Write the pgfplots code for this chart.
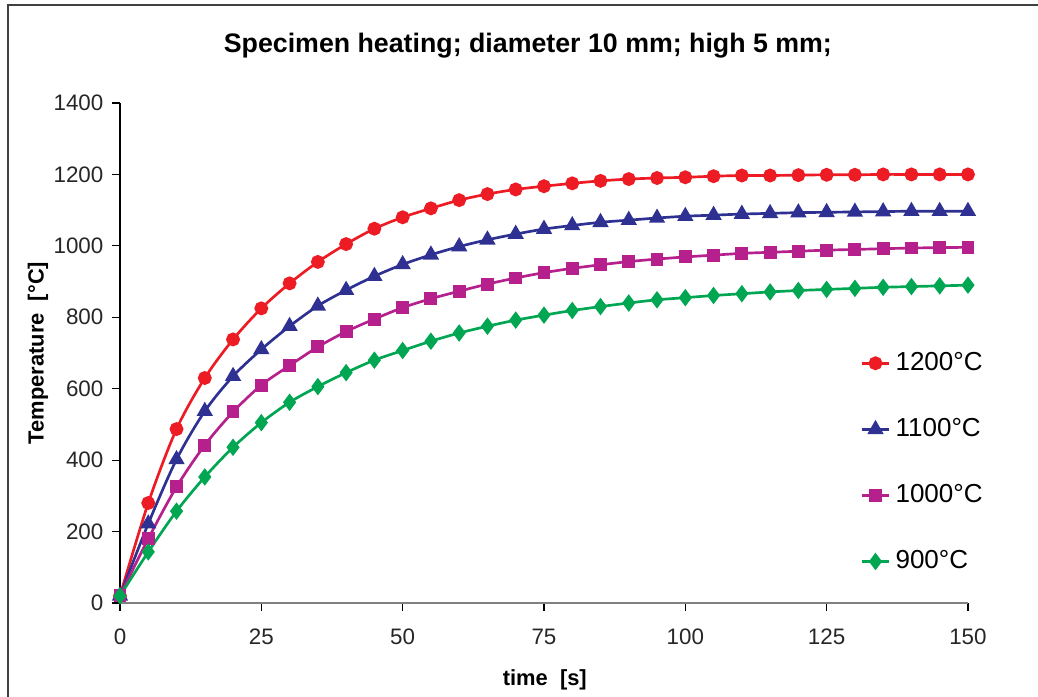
\documentclass[border=0pt]{standalone}
\usepackage{pgfplots}
\pgfplotsset{compat=1.18}
\usepackage{fontspec}
\setmainfont{Liberation Sans}
\definecolor{cred}{RGB}{237,28,36}
\definecolor{cblue}{RGB}{46,49,146}
\definecolor{cmag}{RGB}{181,32,140}
\definecolor{cgreen}{RGB}{0,166,81}
\begin{document}
\begin{tikzpicture}[x=1cm,y=1cm]
\useasboundingbox (-1.734,-1.344) rectangle (13.266,8.714);
\draw[line width=0.8pt,black!75] (-1.6185,-1.4) -- (-1.6185,8.642) -- (13.4,8.642);
\begin{axis}[
  at={(0,0)}, anchor=origin,
  scale only axis, width=12.254cm, height=7.2255cm,
  xmin=0, xmax=150, ymin=0, ymax=1400,
  xtick={0,25,50,75,100,125,150},
  ytick={0,200,400,600,800,1000,1200,1400},
  axis x line*=bottom, axis y line*=left,
  x axis line style={black!50, line width=0.8pt, -},
  y axis line style={black, line width=0.6pt, -},
  tick align=outside, major tick length=3.3pt,
  tick style={black, line width=0.5pt},
  /pgf/number format/assume math mode=true,
  /pgf/number format/1000 sep={},
  ticklabel style={font=\fontsize{9.2}{11}\selectfont, text=black!85},
  xticklabel style={yshift=-4pt},
  title={\textbf{Specimen heating; diameter 10 mm; high 5 mm;}},
  title style={font=\fontsize{11}{13}\selectfont, at={(axis description cs:0.481,1.086)}, anchor=center},
  xlabel={\textbf{time\ \ [s]}},
  ylabel={\textbf{Temperature\ \ [°C]}},
  xlabel style={font=\fontsize{9}{11}\selectfont, at={(axis description cs:0.501,-0.154)}, anchor=center},
  ylabel style={font=\fontsize{9}{11}\selectfont, at={(axis description cs:-0.0967,0.5)}, anchor=center, rotate=0},
  every axis plot/.append style={line width=1.1pt, smooth, tension=0.5},
  legend style={at={(axis description cs:0.8725,0.512)}, anchor=north west, draw=none, fill=none,
    font=\fontsize{10.7}{12}\selectfont, row sep=14.2pt, inner sep=0pt},
  legend cell align=left,
  legend image code/.code={\draw[mark repeat=2,mark phase=2] plot coordinates {(0cm,0cm) (0.2cm,0cm) (0.4cm,0cm)};},
  clip=false,
]
\addplot[cred, mark=*, mark size=2.3pt, mark options={solid}] coordinates {
(0,20)(5,280)(10,487)(15,630)(20,738)(25,825)(30,895)(35,955)(40,1005)(45,1048)(50,1080)
(55,1105)(60,1128)(65,1145)(70,1158)(75,1167)(80,1175)(85,1182)(90,1187)(95,1190)(100,1192)
(105,1195)(110,1197)(115,1197)(120,1198)(125,1199)(130,1199)(135,1200)(140,1200)(145,1200)(150,1200)};
\addlegendentry{1200°C}
\addplot[cblue, mark=triangle*, mark size=2.8pt] coordinates {
(0,20)(5,222)(10,402)(15,537)(20,635)(25,710)(30,775)(35,832)(40,876)(45,915)(50,948)
(55,975)(60,998)(65,1017)(70,1033)(75,1047)(80,1057)(85,1066)(90,1072)(95,1078)(100,1083)
(105,1086)(110,1089)(115,1091)(120,1093)(125,1094)(130,1095)(135,1096)(140,1097)(145,1097)(150,1097)};
\addlegendentry{1100°C}
\addplot[cmag, mark=square*, mark size=2.1pt] coordinates {
(0,20)(5,180)(10,325)(15,442)(20,535)(25,610)(30,665)(35,717)(40,760)(45,795)(50,827)
(55,852)(60,873)(65,893)(70,910)(75,925)(80,937)(85,947)(90,956)(95,963)(100,969)
(105,974)(110,979)(115,982)(120,985)(125,988)(130,990)(135,992)(140,994)(145,995)(150,996)};
\addlegendentry{1000°C}
\addplot[cgreen, mark=diamond*, mark size=2.7pt] coordinates {
(0,20)(5,143)(10,257)(15,353)(20,436)(25,505)(30,562)(35,606)(40,645)(45,680)(50,707)
(55,733)(60,756)(65,775)(70,792)(75,806)(80,819)(85,830)(90,840)(95,849)(100,855)
(105,861)(110,866)(115,871)(120,875)(125,878)(130,881)(135,884)(140,886)(145,888)(150,890)};
\addlegendentry{900°C}
\end{axis}
\end{tikzpicture}
\end{document}
